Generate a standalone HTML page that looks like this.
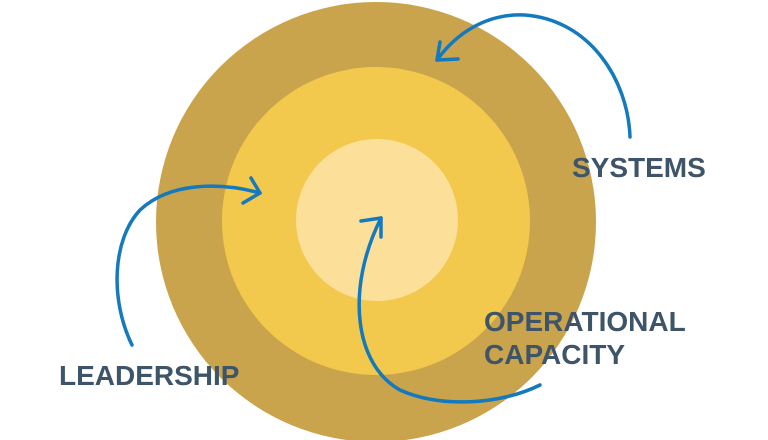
<!DOCTYPE html>
<html><head><meta charset="utf-8"><style>
html,body{margin:0;padding:0;background:#fff;width:768px;height:440px;overflow:hidden}
</style></head><body>
<svg width="768" height="440" viewBox="0 0 768 440" xmlns="http://www.w3.org/2000/svg">
<circle cx="376" cy="222" r="220" fill="#c9a44d"/>
<circle cx="376" cy="221" r="154" fill="#f2c94c"/>
<circle cx="377" cy="220" r="81" fill="#fce09a"/>
<g fill="none" stroke="#1479bd" stroke-width="3.5" stroke-linecap="round" stroke-linejoin="round">
<path d="M630 137 C628 80 590 20 525 15 C485 13 455 35 437 60"/>
<path d="M440 42 L437 60 L458 59"/>
<path d="M132 345 C110 300 112 240 140 210 C170 182 220 182 260 193"/>
<path d="M251 178 L260 193 L243 203"/>
<path d="M540 385 C500 405 440 408 400 390 C355 365 345 290 381 218"/>
<path d="M361 221 L381 218 L381 237"/>
</g>
<g font-family="Liberation Sans, sans-serif" font-weight="bold" font-size="28" fill="#3e5468">
<text x="572" y="177">SYSTEMS</text>
<text x="59" y="385">LEADERSHIP</text>
<text x="484" y="331">OPERATIONAL</text>
<text x="484" y="364">CAPACITY</text>
</g>
</svg>
</body></html>
